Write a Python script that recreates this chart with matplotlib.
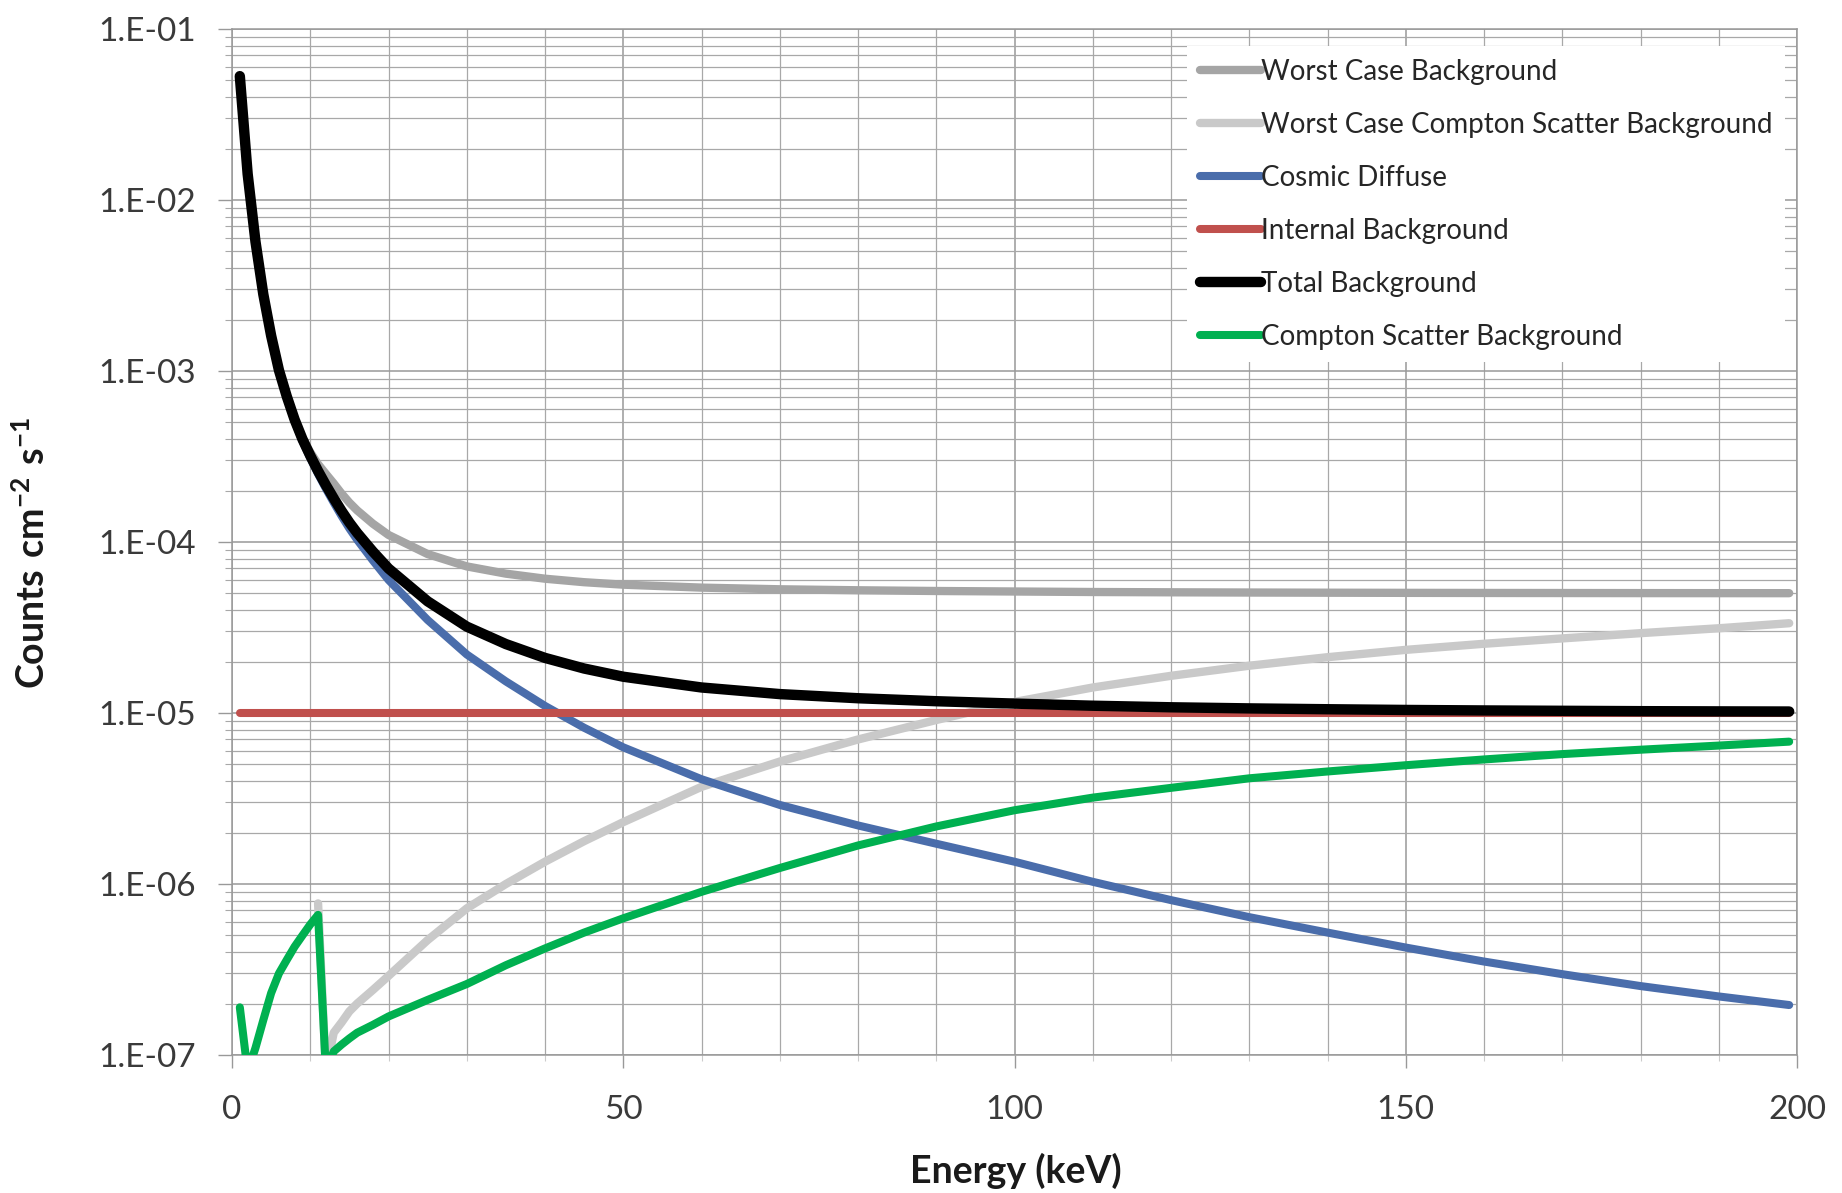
import matplotlib
matplotlib.use('Agg')
import matplotlib.pyplot as plt
from matplotlib.ticker import FixedLocator, LogLocator, NullFormatter

plt.rcParams['font.family'] = ['Lato', 'DejaVu Sans']
plt.rcParams['mathtext.fontset'] = 'custom'
plt.rcParams['mathtext.rm'] = 'Lato'
plt.rcParams['mathtext.bf'] = 'Lato:bold'

# ---------------- data ----------------
energy = [1, 2, 3, 4, 5, 6, 7, 8, 9, 10, 11, 12, 13, 14, 15, 16, 18, 20, 25, 30,
          35, 40, 45, 50, 60, 70, 80, 90, 100, 110, 120, 130, 140, 150, 160, 170,
          180, 190, 199]

worst_case = [5.3e-2, 1.42e-2, 5.71e-3, 2.81e-3, 1.61e-3, 1.01e-3, 7.1e-4, 5.2e-4, 4.0e-4,
              3.35e-4, 2.85e-4, 2.5e-4, 2.2e-4, 1.92e-4, 1.7e-4, 1.53e-4, 1.28e-4, 1.1e-4,
              8.5e-5, 7.2e-5, 6.53e-5, 6.1e-5, 5.82e-5, 5.63e-5, 5.41e-5, 5.29e-5, 5.22e-5,
              5.17e-5, 5.135e-5, 5.1e-5, 5.08e-5, 5.064e-5, 5.052e-5, 5.042e-5, 5.035e-5,
              5.03e-5, 5.025e-5, 5.022e-5, 5.02e-5]

energy_wc_compton = [11, 12, 13, 14, 15, 16, 18, 20, 25, 30, 35, 40, 45, 50, 60, 70, 80,
                     90, 100, 110, 120, 130, 140, 150, 160, 170, 180, 190, 199]
worst_case_compton = [7.7e-7, 8e-8, 1.35e-7, 1.55e-7, 1.8e-7, 2.0e-7, 2.4e-7, 2.9e-7,
                      4.7e-7, 7.2e-7, 1.0e-6, 1.35e-6, 1.78e-6, 2.3e-6, 3.7e-6, 5.2e-6,
                      7.0e-6, 9.1e-6, 1.16e-5, 1.41e-5, 1.65e-5, 1.89e-5, 2.12e-5, 2.34e-5,
                      2.54e-5, 2.73e-5, 2.93e-5, 3.13e-5, 3.35e-5]

cosmic_diffuse = [5.3e-2, 1.42e-2, 5.7e-3, 2.8e-3, 1.6e-3, 1.0e-3, 7.0e-4, 5.1e-4, 3.9e-4,
                  3.1e-4, 2.5e-4, 2.05e-4, 1.7e-4, 1.42e-4, 1.2e-4, 1.03e-4, 7.8e-5, 6.0e-5,
                  3.5e-5, 2.2e-5, 1.53e-5, 1.1e-5, 8.2e-6, 6.3e-6, 4.1e-6, 2.9e-6, 2.2e-6,
                  1.72e-6, 1.35e-6, 1.03e-6, 8.05e-7, 6.4e-7, 5.2e-7, 4.25e-7, 3.52e-7,
                  2.97e-7, 2.53e-7, 2.2e-7, 1.96e-7]

internal = [1e-5] * len(energy)

total = [5.3e-2, 1.42e-2, 5.71e-3, 2.81e-3, 1.61e-3, 1.01e-3, 7.1e-4, 5.2e-4, 4.0e-4,
         3.2e-4, 2.6e-4, 2.15e-4, 1.8e-4, 1.52e-4, 1.3e-4, 1.13e-4, 8.8e-5, 7.0e-5,
         4.5e-5, 3.2e-5, 2.53e-5, 2.1e-5, 1.82e-5, 1.63e-5, 1.41e-5, 1.29e-5, 1.22e-5,
         1.172e-5, 1.135e-5, 1.103e-5, 1.08e-5, 1.064e-5, 1.052e-5, 1.042e-5, 1.035e-5,
         1.03e-5, 1.025e-5, 1.022e-5, 1.02e-5]

compton = [1.9e-7, 8e-8, 1.1e-7, 1.6e-7, 2.3e-7, 3.0e-7, 3.6e-7, 4.3e-7, 5.0e-7, 5.8e-7,
           6.6e-7, 8e-8, 1.05e-7, 1.15e-7, 1.25e-7, 1.35e-7, 1.5e-7, 1.68e-7, 2.1e-7,
           2.6e-7, 3.35e-7, 4.2e-7, 5.2e-7, 6.3e-7, 9.0e-7, 1.24e-6, 1.68e-6, 2.17e-6,
           2.7e-6, 3.2e-6, 3.65e-6, 4.15e-6, 4.55e-6, 4.95e-6, 5.35e-6, 5.75e-6, 6.1e-6,
           6.45e-6, 6.8e-6]

y_ticks = [1e-7, 1e-6, 1e-5, 1e-4, 1e-3, 1e-2, 1e-1]
y_tick_labels = ['1.E-07', '1.E-06', '1.E-05', '1.E-04', '1.E-03', '1.E-02', '1.E-01']
x_ticks = [0, 50, 100, 150, 200]
x_tick_labels = ['0', '50', '100', '150', '200']

labels = ['Worst Case Background', 'Worst Case Compton Scatter Background',
          'Cosmic Diffuse', 'Internal Background', 'Total Background',
          'Compton Scatter Background']
colors = ['#a5a5a5', '#c9c9c9', '#4a6dab', '#c0504d', '#000000', '#00b050']

# ---------------- figure ----------------
fig = plt.figure(figsize=(18.42, 11.93), dpi=100)
ax = fig.add_axes([232 / 1842, 1 - 1055 / 1193, (1797 - 232) / 1842, (1055 - 29) / 1193])

ax.set_yscale('log')
ax.set_xlim(0, 200)
ax.set_ylim(1e-7, 1e-1)

grid_col = '#a8a8a8'
ax.yaxis.set_major_locator(FixedLocator(y_ticks))
ax.yaxis.set_minor_locator(LogLocator(base=10, subs=range(2, 10), numticks=20))
ax.yaxis.set_minor_formatter(NullFormatter())
ax.set_yticklabels(y_tick_labels)
ax.xaxis.set_major_locator(FixedLocator(x_ticks))
ax.xaxis.set_minor_locator(FixedLocator(list(range(0, 201, 10))))
ax.set_xticklabels(x_tick_labels)

ax.grid(which='major', axis='both', color='#999999', lw=1.1, zorder=0)
ax.grid(which='minor', axis='both', color=grid_col, lw=0.9, zorder=0)
ax.set_axisbelow(True)

for s in ax.spines.values():
    s.set_color('#999999')
    s.set_linewidth(1.1)

ax.tick_params(axis='y', which='major', direction='out', length=10, width=1.0,
               color='#999999', labelsize=24, labelcolor='#3a3a3a', pad=16)
ax.tick_params(axis='y', which='minor', direction='out', length=5, width=0.8,
               color=grid_col)
ax.tick_params(axis='x', which='major', direction='out', length=9, width=1.0,
               color='#999999', labelsize=24, labelcolor='#3a3a3a', pad=20)
ax.tick_params(axis='x', which='minor', direction='out', length=4, width=0.8,
               color='#cccccc')

series = [
    (energy, worst_case, 6.0),
    (energy_wc_compton, worst_case_compton, 6.0),
    (energy, cosmic_diffuse, 5.8),
    (energy, internal, 5.8),
    (energy, total, 7.5),
    (energy, compton, 5.8),
]
for i, ((xs, ys, lw), lab, col) in enumerate(zip(series, labels, colors)):
    ax.plot(xs, ys, color=col, lw=lw, label=lab, solid_capstyle='round',
            solid_joinstyle='round', zorder=3 + i)

leg = ax.legend(loc='upper left', bbox_to_anchor=(0.6105, 0.983), borderaxespad=0,
                frameon=True, facecolor='white', edgecolor='none', framealpha=1,
                fancybox=False, fontsize=20, handlelength=2.2, handletextpad=0.0,
                labelspacing=0.97, borderpad=0.45)
for t in leg.get_texts():
    t.set_color('#262626')
leg.set_zorder(20)

fig.text(1016 / 1842, 1 - 1171 / 1193, 'Energy (keV)', ha='center', va='center',
         fontsize=27, fontweight='bold', color='#1a1a1a')
fig.text(33 / 1842, 1 - 553 / 1193, r'$\mathbf{Counts\ cm^{-2}\ s^{-1}}$', ha='center',
         va='center', rotation=90, fontsize=27, color='#1a1a1a')

fig.savefig('out.png', dpi=100, facecolor='white')
